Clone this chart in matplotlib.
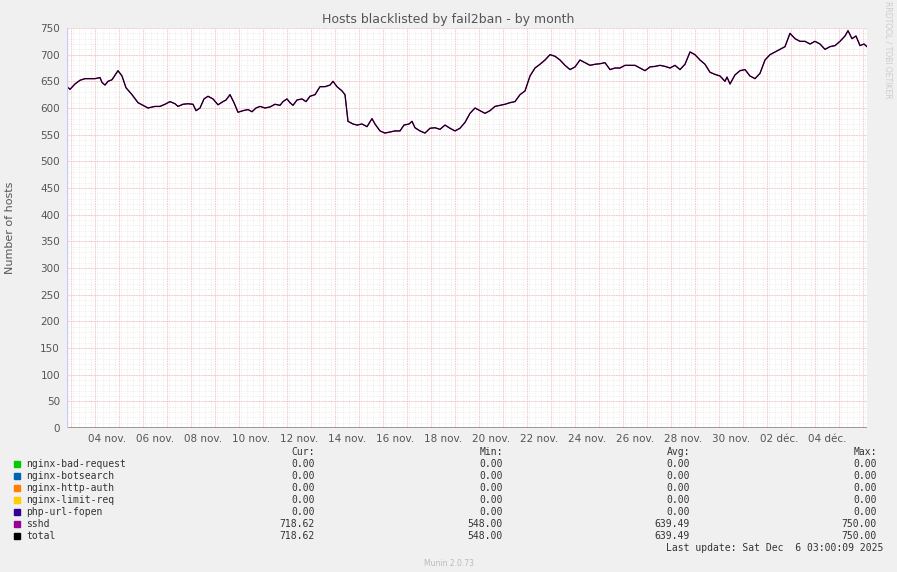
import matplotlib
matplotlib.use("Agg")
import matplotlib.pyplot as plt
import numpy as np

# hours since left edge of graph, and total hosts
hours = [0, 3, 8, 13, 18, 23, 28, 33, 35, 38, 41, 45, 51, 55, 59, 65, 71, 76, 81, 88, 93, 98,
         103, 108, 111, 116, 121, 126, 129, 133, 137, 141, 146, 151, 156, 159, 163, 167, 171,
         176, 181, 185, 189, 193, 198, 203, 208, 213, 216, 220, 223, 226, 230, 235, 239, 243,
         248, 253, 258, 263, 266, 270, 275, 278, 281, 286, 290, 295, 300, 305, 308, 313, 318,
         323, 328, 333, 337, 342, 345, 348, 353, 358, 363, 368, 373, 378, 383, 388, 393, 398,
         403, 408, 413, 418, 423, 428, 433, 438, 443, 448, 453, 458, 463, 468, 473, 478, 483,
         488, 493, 498, 503, 508, 513, 518, 523, 528, 533, 538, 543, 548, 553, 558, 563, 568,
         573, 578, 583, 588, 593, 598, 603, 608, 613, 618, 623, 628, 633, 638, 643, 648, 653,
         658, 660, 663, 668, 673, 678, 683, 688, 693, 698, 703, 708, 713, 718, 723, 728, 733,
         738, 743, 748, 753, 758, 763, 768, 773, 778, 781, 785, 789, 793, 797, 800]
total = [640, 635, 645, 652, 655, 655, 655, 657, 648, 643, 650, 653, 670, 660, 638, 625, 610, 605,
         600, 603, 603, 607, 612, 608, 603, 607, 608, 607, 595, 600, 617, 622, 617, 606, 612, 615,
         625, 610, 592, 595, 597, 593, 600, 603, 600, 602, 607, 605, 612, 617, 610, 605, 615, 617,
         612, 622, 625, 640, 640, 643, 650, 640, 632, 625, 575, 570, 568, 570, 565, 580, 570, 557,
         553, 555, 557, 557, 568, 570, 575, 563, 557, 553, 562, 563, 560, 568, 562, 557, 562, 573,
         590, 600, 595, 590, 595, 603, 605, 607, 610, 612, 625, 632, 660, 675, 682, 690, 700, 697,
         690, 680, 672, 677, 690, 685, 680, 682, 683, 685, 672, 675, 675, 680, 680, 680, 675, 670,
         677, 678, 680, 678, 675, 680, 672, 682, 705, 700, 690, 682, 667, 663, 660, 650, 658, 645,
         662, 670, 672, 660, 655, 665, 690, 700, 705, 710, 715, 740, 730, 725, 725, 720, 725, 720,
         710, 715, 717, 725, 735, 745, 730, 735, 717, 720, 715]

day_labels = ["04 nov.", "06 nov.", "08 nov.", "10 nov.", "12 nov.", "14 nov.", "16 nov.",
              "18 nov.", "20 nov.", "22 nov.", "24 nov.", "26 nov.", "28 nov.", "30 nov.",
              "02 déc.", "04 déc."]

series = ["nginx-bad-request", "nginx-botsearch", "nginx-http-auth", "nginx-limit-req",
          "php-url-fopen", "sshd", "total"]
colors = ["#00cc00", "#0066b3", "#ff8000", "#ffcc00", "#330099", "#990099", "#000000"]
cur = [0, 0, 0, 0, 0, 718.62, 718.62]
vmin = [0, 0, 0, 0, 0, 548.00, 548.00]
avg = [0, 0, 0, 0, 0, 639.49, 639.49]
vmax = [0, 0, 0, 0, 0, 750.00, 750.00]

W, H = 897, 572
fig = plt.figure(figsize=(W / 100, H / 100), dpi=100, facecolor="#f0f0f0")
ax = fig.add_axes([67 / W, (H - 428) / H, 800 / W, 400 / H])
ax.set_facecolor("white")
ax.set_xlim(0, 800)
ax.set_ylim(0, 750)

# grid
for h in np.arange(0, 801, 6):
    ax.axvline(h, color="#e4e4e4", lw=0.5, ls=(0, (1, 1.5)), zorder=0)
for v in np.arange(0, 751, 10):
    ax.axhline(v, color="#e4e4e4", lw=0.5, ls=(0, (1, 1.5)), zorder=0)
for h in np.arange(4, 801, 24):
    ax.axvline(h, color="#f8b0b0", lw=0.6, ls=(0, (1, 1)), zorder=1)
for v in np.arange(50, 751, 50):
    ax.axhline(v, color="#f8b0b0", lw=0.6, ls=(0, (1, 1)), zorder=1)

for c in colors[:5]:
    ax.plot([0, 800], [0, 0], color=c, lw=1)
ax.plot(hours, total, color="#990099", lw=1.0, zorder=3)
ax.plot(hours, total, color="black", lw=0.7, zorder=4)

for s in ax.spines.values():
    s.set_visible(False)
ax.axvline(0, color="#c8c8ff", lw=1, zorder=5)
ax.axhline(0, color="#8a7fd8", lw=1, zorder=2)
ax.set_yticks(np.arange(0, 751, 50))
ax.set_xticks(np.arange(40, 800, 48))
ax.set_xticklabels(day_labels)
ax.tick_params(labelsize=7.5, colors="#555555", length=0, pad=4)
ax.tick_params(axis="y", pad=5)
ax.set_ylabel("Number of hosts", fontsize=8, color="#555555", labelpad=18)

fig.text(448 / W, 1 - 19 / H, "Hosts blacklisted by fail2ban - by month", ha="center",
         va="center", fontsize=9, color="#555555")
fig.text(888 / W, 1 - 50 / H, "RRDTOOL / TOBI OETIKER", rotation=270, ha="center", va="center",
         fontsize=5.5, color="#cccccc")

mono = dict(family="DejaVu Sans Mono", fontsize=7, color="#333333", va="center")
fig.text(315 / W, 1 - 452 / H, "Cur:", ha="right", **mono)
fig.text(503 / W, 1 - 452 / H, "Min:", ha="right", **mono)
fig.text(690 / W, 1 - 452 / H, "Avg:", ha="right", **mono)
fig.text(877 / W, 1 - 452 / H, "Max:", ha="right", **mono)
for i, name in enumerate(series):
    y = 1 - (464 + 12 * i) / H
    fig.patches.append(plt.Rectangle((14 / W, y - 3 / H), 6 / W, 6 / H, transform=fig.transFigure,
                                     color=colors[i]))
    fig.text(26 / W, y, name, ha="left", **mono)
    fig.text(315 / W, y, f"{cur[i]:.2f}", ha="right", **mono)
    fig.text(503 / W, y, f"{vmin[i]:.2f}", ha="right", **mono)
    fig.text(690 / W, y, f"{avg[i]:.2f}", ha="right", **mono)
    fig.text(877 / W, y, f"{vmax[i]:.2f}", ha="right", **mono)
fig.text(883 / W, 1 - 548 / H, "Last update: Sat Dec  6 03:00:09 2025", ha="right", **mono)
fig.text(449 / W, 1 - 563 / H, "Munin 2.0.73", ha="center", va="center", fontsize=5.5,
         color="#bbbbbb")

fig.savefig("out.png", dpi=100, facecolor=fig.get_facecolor())
